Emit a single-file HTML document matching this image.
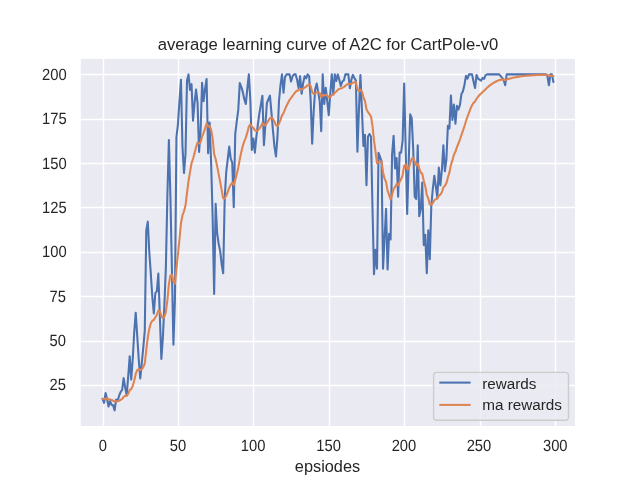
<!DOCTYPE html>
<html><head><meta charset="utf-8"><title>average learning curve of A2C for CartPole-v0</title>
<style>
html,body{margin:0;padding:0;background:#fff;}
body{width:640px;height:480px;overflow:hidden;}
svg{display:block;will-change:transform;}
text{font-family:"Liberation Sans",sans-serif;fill:#262626;}
</style></head><body>
<svg width="640" height="480" viewBox="0 0 640 480">
<rect x="0" y="0" width="640" height="480" fill="#ffffff"/>
<rect x="80.8" y="58.9" width="494.2" height="367.1" fill="#eaeaf2"/>
<g stroke="#ffffff" stroke-width="1.39" stroke-linecap="round"><line x1="103.5" y1="57.6" x2="103.5" y2="427.2"/><line x1="178.5" y1="57.6" x2="178.5" y2="427.2"/><line x1="253.5" y1="57.6" x2="253.5" y2="427.2"/><line x1="329.5" y1="57.6" x2="329.5" y2="427.2"/><line x1="404.5" y1="57.6" x2="404.5" y2="427.2"/><line x1="480.5" y1="57.6" x2="480.5" y2="427.2"/><line x1="555.5" y1="57.6" x2="555.5" y2="427.2"/><line x1="80.0" y1="385.5" x2="576.0" y2="385.5"/><line x1="80.0" y1="341.5" x2="576.0" y2="341.5"/><line x1="80.0" y1="296.5" x2="576.0" y2="296.5"/><line x1="80.0" y1="252.5" x2="576.0" y2="252.5"/><line x1="80.0" y1="207.5" x2="576.0" y2="207.5"/><line x1="80.0" y1="163.5" x2="576.0" y2="163.5"/><line x1="80.0" y1="119.5" x2="576.0" y2="119.5"/><line x1="80.0" y1="74.5" x2="576.0" y2="74.5"/></g>
<clipPath id="c"><rect x="80.8" y="58.9" width="494.2" height="367.1"/></clipPath>
<g clip-path="url(#c)" fill="none" stroke-width="2.08" stroke-linejoin="round" stroke-linecap="round">
<path d="M102.55,398.74 L104.05,402.82 L105.56,393.07 L107.07,399.10 L108.58,406.55 L110.09,401.05 L111.59,404.78 L113.10,405.31 L114.61,410.40 L116.12,399.63 L117.63,400.69 L119.13,395.73 L120.64,392.00 L122.15,389.87 L123.66,378.16 L125.17,387.39 L126.67,395.37 L128.18,376.74 L129.69,356.34 L131.20,379.58 L132.71,359.00 L134.21,332.21 L135.72,312.69 L137.23,336.11 L138.74,359.18 L140.25,378.52 L141.75,363.61 L143.26,347.64 L144.77,330.79 L146.28,230.54 L147.79,221.67 L149.30,252.19 L150.80,273.65 L152.31,296.72 L153.82,313.40 L155.33,293.17 L156.84,291.40 L158.34,273.65 L159.85,316.24 L161.36,359.00 L162.87,337.71 L164.38,305.06 L165.88,267.09 L167.39,195.05 L168.90,140.05 L170.41,196.83 L171.92,269.57 L173.42,344.80 L174.93,299.74 L176.44,137.03 L177.95,124.26 L179.46,101.01 L180.96,79.72 L182.47,146.26 L183.98,173.05 L185.49,154.24 L187.00,80.43 L188.50,74.40 L190.01,90.01 L191.52,84.16 L193.03,120.71 L194.54,102.79 L196.04,89.48 L197.55,102.79 L199.06,151.94 L200.57,131.18 L202.08,82.74 L203.59,101.19 L205.09,88.59 L206.60,79.01 L208.11,153.18 L209.62,122.48 L211.13,163.12 L212.63,216.70 L214.14,293.88 L215.65,203.75 L217.16,233.20 L218.67,243.85 L220.17,251.12 L221.68,264.25 L223.19,273.30 L224.70,198.96 L226.21,172.16 L227.71,159.74 L229.22,146.61 L230.73,158.50 L232.24,162.76 L233.75,207.30 L235.25,133.84 L236.76,121.42 L238.27,109.89 L239.78,83.09 L241.29,86.82 L242.79,92.14 L244.30,99.24 L245.81,104.03 L247.32,88.59 L248.83,74.40 L250.34,99.95 L251.84,149.99 L253.35,138.45 L254.86,152.65 L256.37,136.68 L257.88,124.26 L259.38,113.43 L260.89,104.56 L262.40,95.69 L263.91,145.19 L265.42,124.26 L266.92,102.79 L268.43,99.24 L269.94,95.69 L271.45,112.55 L272.96,130.29 L274.46,146.61 L275.97,156.37 L277.48,136.68 L278.99,101.01 L280.50,85.05 L282.00,74.40 L283.51,92.68 L285.02,77.06 L286.53,74.40 L288.04,74.40 L289.54,74.40 L291.05,81.50 L292.56,76.17 L294.07,74.40 L295.58,74.40 L297.08,79.72 L298.59,88.06 L300.10,76.17 L301.61,93.74 L303.12,83.27 L304.63,76.17 L306.13,78.30 L307.64,74.40 L309.15,76.17 L310.66,99.95 L312.17,143.78 L313.67,111.66 L315.18,89.48 L316.69,83.45 L318.20,92.14 L319.71,101.01 L321.21,131.18 L322.72,74.40 L324.23,104.03 L325.74,87.88 L327.25,101.01 L328.75,115.21 L330.26,93.92 L331.77,74.40 L333.28,93.92 L334.79,74.40 L336.29,80.96 L337.80,74.40 L339.31,79.72 L340.82,85.93 L342.33,81.50 L343.83,80.43 L345.34,74.40 L346.85,74.40 L348.36,74.40 L349.87,88.24 L351.37,79.72 L352.88,74.93 L354.39,77.95 L355.90,80.61 L357.41,151.76 L358.92,109.89 L360.42,74.93 L361.93,109.89 L363.44,146.08 L364.95,134.90 L366.46,185.29 L367.96,136.68 L369.47,134.02 L370.98,136.68 L372.49,207.83 L374.00,274.19 L375.50,249.70 L377.01,268.69 L378.52,152.82 L380.03,156.91 L381.54,161.34 L383.04,268.69 L384.55,237.99 L386.06,208.71 L387.57,269.57 L389.08,233.91 L390.58,239.41 L392.09,154.24 L393.60,135.79 L395.11,168.44 L396.62,158.15 L398.12,196.65 L399.63,152.65 L401.14,152.65 L402.65,140.05 L404.16,83.45 L405.66,149.10 L407.17,213.86 L408.68,163.29 L410.19,114.32 L411.70,118.23 L413.21,149.10 L414.71,196.65 L416.22,198.96 L417.73,145.19 L419.24,216.17 L420.75,209.25 L422.25,182.46 L423.76,245.09 L425.27,234.80 L426.78,273.30 L428.29,230.18 L429.79,259.11 L431.30,205.70 L432.81,189.02 L434.32,175.71 L435.83,186.36 L437.33,197.54 L438.84,167.55 L440.35,185.29 L441.86,170.21 L443.37,145.37 L444.87,171.28 L446.38,159.57 L447.89,125.68 L449.40,128.52 L450.91,95.51 L452.41,120.00 L453.92,104.56 L455.43,123.73 L456.94,105.81 L458.45,109.53 L459.96,104.92 L461.46,93.92 L462.97,91.26 L464.48,84.69 L465.99,75.82 L467.50,78.66 L469.00,74.40 L470.51,74.40 L472.02,74.40 L473.53,81.50 L475.04,88.06 L476.54,74.93 L478.05,78.66 L479.56,79.72 L481.07,80.61 L482.58,77.95 L484.08,78.84 L485.59,75.11 L487.10,74.40 L488.61,74.40 L490.12,74.40 L491.62,74.40 L493.13,74.40 L494.64,74.40 L496.15,74.40 L497.66,74.40 L499.16,74.40 L500.67,76.17 L502.18,77.95 L503.69,80.08 L505.20,85.22 L506.70,74.40 L508.21,74.40 L509.72,74.40 L511.23,74.40 L512.74,74.40 L514.25,74.40 L515.75,74.40 L517.26,74.40 L518.77,74.40 L520.28,74.40 L521.79,74.40 L523.29,74.40 L524.80,74.40 L526.31,74.40 L527.82,74.40 L529.33,74.40 L530.83,74.40 L532.34,74.40 L533.85,74.40 L535.36,74.40 L536.87,74.40 L538.37,74.40 L539.88,74.40 L541.39,74.40 L542.90,74.40 L544.41,74.40 L545.91,74.40 L547.42,76.17 L548.93,85.22 L550.44,74.40 L551.95,74.40 L553.45,82.03" stroke="#4c72b0"/>
<path d="M102.55,398.74 L104.05,399.15 L105.56,398.54 L107.07,398.60 L108.58,399.39 L110.09,399.56 L111.59,400.08 L113.10,400.60 L114.61,401.58 L116.12,401.39 L117.63,401.32 L119.13,400.76 L120.64,399.88 L122.15,398.88 L123.66,396.81 L125.17,395.87 L126.67,395.82 L128.18,393.91 L129.69,390.15 L131.20,389.10 L132.71,386.09 L134.21,380.70 L135.72,373.90 L137.23,370.12 L138.74,369.02 L140.25,369.97 L141.75,369.34 L143.26,367.17 L144.77,363.53 L146.28,350.23 L147.79,337.37 L149.30,328.86 L150.80,323.34 L152.31,320.67 L153.82,319.95 L155.33,317.27 L156.84,314.68 L158.34,310.58 L159.85,311.14 L161.36,315.93 L162.87,318.11 L164.38,316.80 L165.88,311.83 L167.39,300.15 L168.90,284.14 L170.41,275.41 L171.92,274.83 L173.42,281.83 L174.93,283.62 L176.44,268.96 L177.95,254.49 L179.46,239.14 L180.96,223.20 L182.47,215.51 L183.98,211.26 L185.49,205.56 L187.00,193.05 L188.50,181.18 L190.01,172.06 L191.52,163.27 L193.03,159.02 L194.54,153.39 L196.04,147.00 L197.55,142.58 L199.06,143.52 L200.57,142.28 L202.08,136.33 L203.59,132.82 L205.09,128.39 L206.60,123.46 L208.11,126.43 L209.62,126.03 L211.13,129.74 L212.63,138.44 L214.14,153.98 L215.65,158.96 L217.16,166.38 L218.67,174.13 L220.17,181.83 L221.68,190.07 L223.19,198.39 L224.70,198.45 L226.21,195.82 L227.71,192.21 L229.22,187.65 L230.73,184.74 L232.24,182.54 L233.75,185.02 L235.25,179.90 L236.76,174.05 L238.27,167.63 L239.78,159.18 L241.29,151.94 L242.79,145.96 L244.30,141.29 L245.81,137.57 L247.32,132.67 L248.83,126.84 L250.34,124.15 L251.84,126.74 L253.35,127.91 L254.86,130.38 L256.37,131.01 L257.88,130.34 L259.38,128.65 L260.89,126.24 L262.40,123.18 L263.91,125.38 L265.42,125.27 L266.92,123.02 L268.43,120.64 L269.94,118.15 L271.45,117.59 L272.96,118.86 L274.46,121.63 L275.97,125.11 L277.48,126.27 L278.99,123.74 L280.50,119.87 L282.00,115.32 L283.51,113.06 L285.02,109.46 L286.53,105.95 L288.04,102.80 L289.54,99.96 L291.05,98.11 L292.56,95.92 L294.07,93.77 L295.58,91.83 L297.08,90.62 L298.59,90.36 L300.10,88.94 L301.61,89.42 L303.12,88.81 L304.63,87.55 L306.13,86.62 L307.64,85.40 L309.15,84.48 L310.66,86.02 L312.17,91.80 L313.67,93.79 L315.18,93.35 L316.69,92.36 L318.20,92.34 L319.71,93.21 L321.21,97.01 L322.72,94.75 L324.23,95.67 L325.74,94.90 L327.25,95.51 L328.75,97.48 L330.26,97.12 L331.77,94.85 L333.28,94.76 L334.79,92.72 L336.29,91.54 L337.80,89.83 L339.31,88.82 L340.82,88.53 L342.33,87.83 L343.83,87.09 L345.34,85.82 L346.85,84.68 L348.36,83.65 L349.87,84.11 L351.37,83.67 L352.88,82.80 L354.39,82.31 L355.90,82.14 L357.41,89.10 L358.92,91.18 L360.42,89.56 L361.93,91.59 L363.44,97.04 L364.95,100.83 L366.46,109.27 L367.96,112.01 L369.47,114.21 L370.98,116.46 L372.49,125.60 L374.00,140.46 L375.50,151.38 L377.01,163.11 L378.52,162.08 L380.03,161.56 L381.54,161.54 L383.04,172.26 L384.55,178.83 L386.06,181.82 L387.57,190.59 L389.08,194.93 L390.58,199.37 L392.09,194.86 L393.60,188.95 L395.11,186.90 L396.62,184.03 L398.12,185.29 L399.63,182.02 L401.14,179.09 L402.65,175.18 L404.16,166.01 L405.66,164.32 L407.17,169.27 L408.68,168.67 L410.19,163.24 L411.70,158.74 L413.21,157.77 L414.71,161.66 L416.22,165.39 L417.73,163.37 L419.24,168.65 L420.75,172.71 L422.25,173.69 L423.76,180.83 L425.27,186.22 L426.78,194.93 L428.29,198.46 L429.79,204.52 L431.30,204.64 L432.81,203.08 L434.32,200.34 L435.83,198.94 L437.33,198.80 L438.84,195.68 L440.35,194.64 L441.86,192.20 L443.37,187.51 L444.87,185.89 L446.38,183.26 L447.89,177.50 L449.40,172.60 L450.91,164.89 L452.41,160.40 L453.92,154.82 L455.43,151.71 L456.94,147.12 L458.45,143.36 L459.96,139.52 L461.46,134.96 L462.97,130.59 L464.48,126.00 L465.99,120.98 L467.50,116.75 L469.00,112.51 L470.51,108.70 L472.02,105.27 L473.53,102.89 L475.04,101.41 L476.54,98.76 L478.05,96.75 L479.56,95.05 L481.07,93.61 L482.58,92.04 L484.08,90.72 L485.59,89.16 L487.10,87.68 L488.61,86.35 L490.12,85.16 L491.62,84.08 L493.13,83.11 L494.64,82.24 L496.15,81.46 L497.66,80.75 L499.16,80.12 L500.67,79.72 L502.18,79.55 L503.69,79.60 L505.20,80.16 L506.70,79.59 L508.21,79.07 L509.72,78.60 L511.23,78.18 L512.74,77.80 L514.25,77.46 L515.75,77.16 L517.26,76.88 L518.77,76.63 L520.28,76.41 L521.79,76.21 L523.29,76.03 L524.80,75.86 L526.31,75.72 L527.82,75.59 L529.33,75.47 L530.83,75.36 L532.34,75.26 L533.85,75.18 L535.36,75.10 L536.87,75.03 L538.37,74.97 L539.88,74.91 L541.39,74.86 L542.90,74.81 L544.41,74.77 L545.91,74.74 L547.42,74.88 L548.93,75.91 L550.44,75.76 L551.95,75.63 L553.45,76.27" stroke="#dd8452"/>
</g>

<g font-size="15.28px"><text transform="translate(102.95,450.95) rotate(0.03) scale(0.965,1.06)" text-anchor="middle">0</text><text transform="translate(178.05,450.95) rotate(0.03) scale(0.965,1.06)" text-anchor="middle">50</text><text transform="translate(253.15,450.95) rotate(0.03) scale(0.965,1.06)" text-anchor="middle">100</text><text transform="translate(328.65,450.95) rotate(0.03) scale(0.965,1.06)" text-anchor="middle">150</text><text transform="translate(403.96,450.95) rotate(0.03) scale(0.965,1.06)" text-anchor="middle">200</text><text transform="translate(478.96,450.95) rotate(0.03) scale(0.965,1.06)" text-anchor="middle">250</text><text transform="translate(555.26,450.95) rotate(0.03) scale(0.965,1.06)" text-anchor="middle">300</text><text transform="translate(66.0,389.95) rotate(0.03) scale(0.965,1.06)" text-anchor="end">25</text><text transform="translate(66.0,345.95) rotate(0.03) scale(0.965,1.06)" text-anchor="end">50</text><text transform="translate(66.0,301.95) rotate(0.03) scale(0.965,1.06)" text-anchor="end">75</text><text transform="translate(66.6,256.95) rotate(0.03) scale(0.965,1.06)" text-anchor="end">100</text><text transform="translate(66.6,212.95) rotate(0.03) scale(0.965,1.06)" text-anchor="end">125</text><text transform="translate(66.6,168.95) rotate(0.03) scale(0.965,1.06)" text-anchor="end">150</text><text transform="translate(66.6,123.95) rotate(0.03) scale(0.965,1.06)" text-anchor="end">175</text><text transform="translate(66.6,79.95) rotate(0.03) scale(0.965,1.06)" text-anchor="end">200</text></g>
<text x="328" y="49.5" font-size="16.67px" text-anchor="middle">average learning curve of A2C for CartPole-v0</text>
<text x="327.5" y="471.5" font-size="16.67px" text-anchor="middle" textLength="65.3" lengthAdjust="spacingAndGlyphs">epsiodes</text>
<g>
<rect x="433.6" y="372.4" width="134.9" height="47.9" rx="3.2" ry="3.2" fill="#eaeaf2" fill-opacity="0.8" stroke="#cccccc" stroke-width="1.39"/>
<line x1="439.3" y1="382.6" x2="470.6" y2="382.6" stroke="#4c72b0" stroke-width="2.08" stroke-linecap="butt"/>
<line x1="439.3" y1="404.9" x2="470.6" y2="404.9" stroke="#dd8452" stroke-width="2.08" stroke-linecap="butt"/>
<text x="482.2" y="389.0" font-size="15.28px">rewards</text>
<text x="482.2" y="410.4" font-size="15.28px">ma rewards</text>
</g>
</svg>
</body></html>
